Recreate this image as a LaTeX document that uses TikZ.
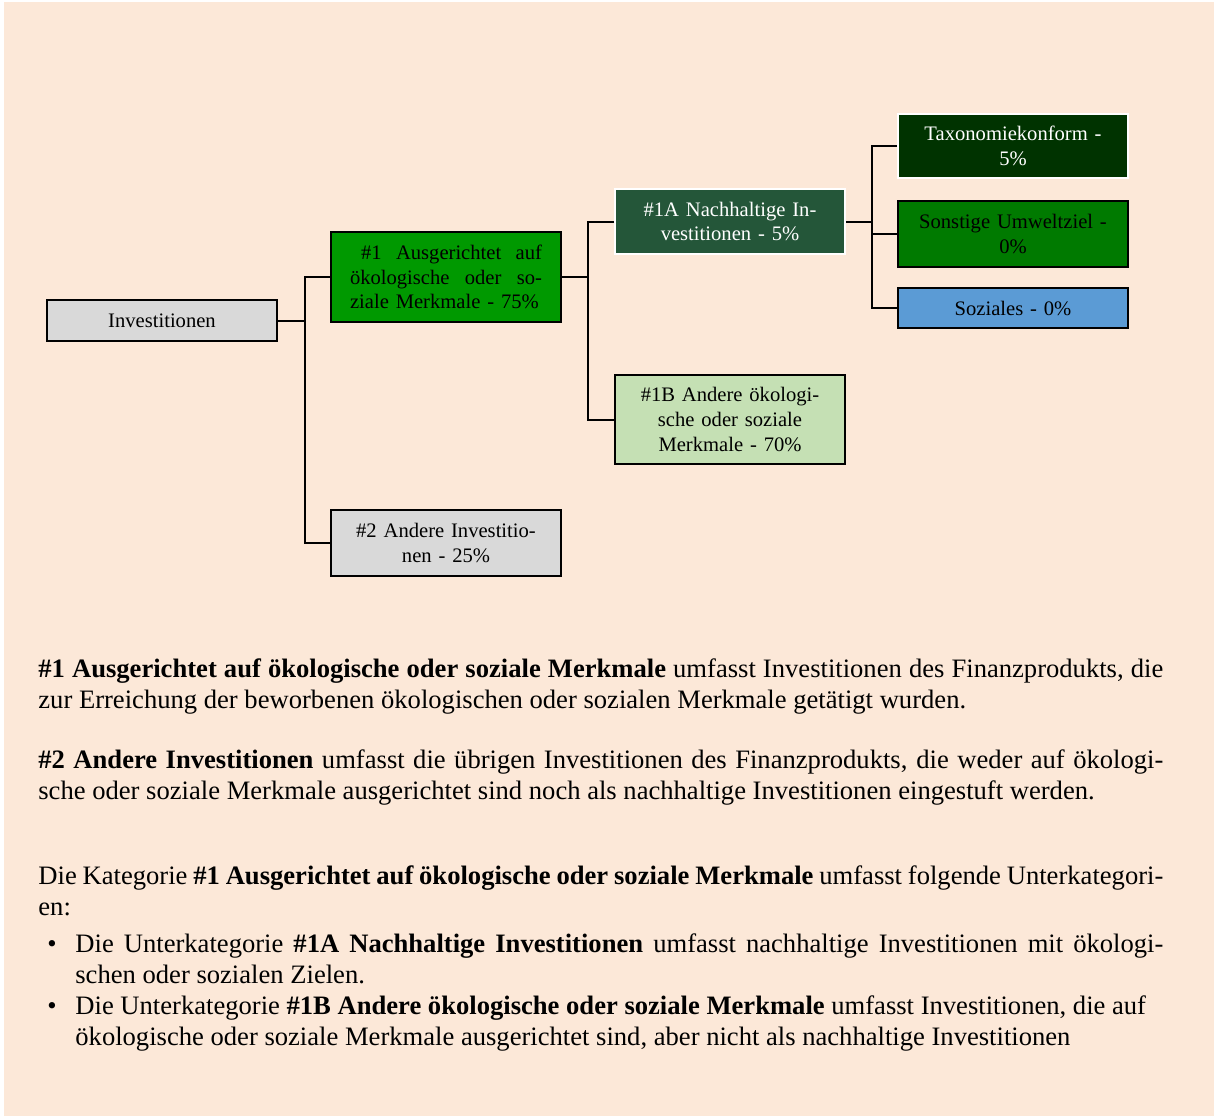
\documentclass[tikz,border=0pt]{standalone}
\usepackage{fontspec}
\setmainfont{Liberation Serif}
\definecolor{fondo}{HTML}{FCE8D8}
\definecolor{gris}{HTML}{D9D9D9}
\definecolor{gruenA}{HTML}{009900}
\definecolor{gruenN}{HTML}{245639}
\definecolor{gruenT}{HTML}{003300}
\definecolor{gruenU}{HTML}{007A00}
\definecolor{blauS}{HTML}{5B9BD5}
\definecolor{gruenB}{HTML}{C5E0B4}
\begin{document}
\begin{tikzpicture}[x=0.5pt,y=-0.5pt,
    caja/.style={draw=black, line width=1pt, minimum width=115pt, inner sep=2pt,
      align=center, text width=105pt, font=\fontsize{10.3}{12.3}\selectfont},
    linea/.style={line width=1pt},
    texto/.style={anchor=base west, inner sep=0pt,
      font=\fontsize{13.3}{15.5}\selectfont}]
    % Hintergrund
    \useasboundingbox (0,0) rectangle (1214,1119);
    \fill[fondo] (4,2) rectangle (1214,1116);

    % Investitionen
    \node[caja, fill=gris, minimum height=20.5pt] (inv) at (162,320.5) {Investitionen};
    % #1 und #2
    \node[caja, fill=gruenA, minimum height=45pt, text width=96pt, align=left] (a1) at (446,277)
        {\leavevmode\hbox to 96pt{\spaceskip=.25em plus 1fil\relax\hspace{5.5pt}\#1 Ausgerichtet auf}\\
         \leavevmode\hbox to 96pt{\spaceskip=.25em plus 1fil\relax ökologische oder so-}\\
         ziale Merkmale - 75\%};
    \node[caja, fill=gris, minimum height=33pt] (a2) at (446,543) {\#2 Andere Investitio-\\nen - 25\%};
    % #1A und #1B
    \node[caja, fill=gruenN, draw=white, text=white, minimum height=32.5pt] (a1a) at (730,221.5)
        {\#1A Nachhaltige In-\\vestitionen - 5\%};
    \node[caja, fill=gruenB, minimum height=44.5pt] (a1b) at (730,419.5)
        {\#1B Andere ökologi-\\sche oder soziale\\Merkmale - 70\%};
    % Unterteilung von #1A
    \node[caja, fill=gruenT, draw=white, text=white, minimum height=32pt] (tax) at (1013,146)
        {Taxonomiekonform -\\5\%};
    \node[caja, fill=gruenU, minimum height=33pt] (sonst) at (1013,234) {Sonstige Umweltziel -\\0\%};
    \node[caja, fill=blauS, minimum height=20pt] (soz) at (1013,308) {Soziales - 0\%};

    % Verbindungen
    \coordinate (k1) at (305,320.5);
    \coordinate (k2) at (588,277);
    \coordinate (k3) at (872,221.5);
    \draw[linea] (inv.east) -- (k1);
    \draw[linea] (a1.west) -| (k1);
    \draw[linea] (a2.west) -| (k1);
    \draw[linea] (a1.east) -- (k2);
    \draw[linea] (a1a.west) -| (k2);
    \draw[linea] (a1b.west) -| (k2);
    \draw[linea] (a1a.east) -- (k3);
    \draw[linea] (tax.west) -| (k3);
    \draw[linea] (sonst.west) -| (k3);
    \draw[linea] (soz.west) -| (k3);

    % Erklaerungen
    \node[texto] (p1) at (38,677)
        {\parbox[t]{562.5pt}{\makebox[\linewidth][s]{\textbf{\#1 Ausgerichtet auf ökologische oder soziale Merkmale} umfasst Investitionen des Finanzprodukts, die}\\
         zur Erreichung der beworbenen ökologischen oder sozialen Merkmale getätigt wurden.}};
    \node[texto] (p2) at (38,768)
        {\parbox[t]{562.5pt}{\makebox[\linewidth][s]{\textbf{\#2 Andere Investitionen} umfasst die übrigen Investitionen des Finanzprodukts, die weder auf ökologi-}\\
         sche oder soziale Merkmale ausgerichtet sind noch als nachhaltige Investitionen eingestuft werden.}};
    \node[texto] (p3) at (38,884)
        {\parbox[t]{562.5pt}{\makebox[\linewidth][s]{Die Kategorie \textbf{\#1 Ausgerichtet auf ökologische oder soziale Merkmale} umfasst folgende Unterkategori-}\\
         en:}};
    % Aufzaehlung
    \node[texto] (d1) at (47,952) {•};
    \node[texto] (u1) at (75,952)
        {\parbox[t]{544pt}{\makebox[\linewidth][s]{Die Unterkategorie \textbf{\#1A Nachhaltige Investitionen} umfasst nachhaltige Investitionen mit ökologi-}\\
         schen oder sozialen Zielen.}};
    \node[texto] (d2) at (47,1014) {•};
    \node[texto] (u2) at (75,1014)
        {\parbox[t]{544pt}{Die Unterkategorie \textbf{\#1B Andere ökologische oder soziale Merkmale} umfasst Investitionen, die auf\\
         ökologische oder soziale Merkmale ausgerichtet sind, aber nicht als nachhaltige Investitionen}};
\end{tikzpicture}
\end{document}
